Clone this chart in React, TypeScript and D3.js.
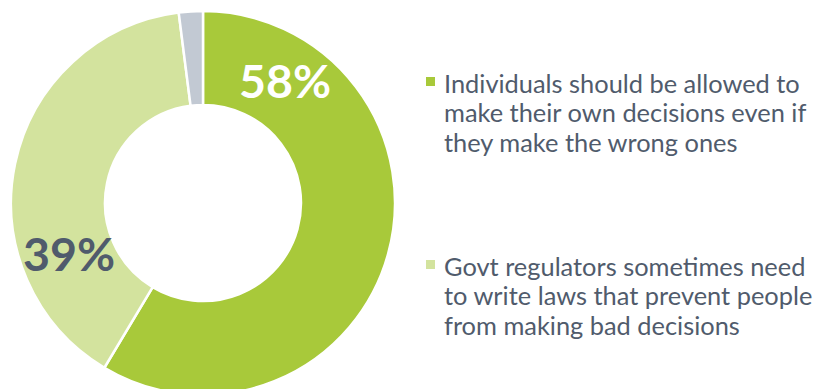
import React from "react";
import * as d3 from "d3";

const categories = [
  "Individuals should be allowed to make their own decisions even if they make the wrong ones",
  "Govt regulators sometimes need to write laws that prevent people from making bad decisions",
  "Other",
];
const values = [58, 39, 2];
const labels = ["58%", "39%", ""];
const colors = ["#a8c93a", "#d3e39e", "#c2c9d3"];
const legendLines = [
  ["Individuals should be allowed to", "make their own decisions even if", "they make the wrong ones"],
  ["Govt regulators sometimes need", "to write laws that prevent people", "from making bad decisions"],
];

const W = 820;
const H = 389;
const cx = 203;
const cy = 203;
const outerR = 192;
const innerR = 98;
const TEXT = "#505b6c";

export default function App() {
  const pie = d3.pie<number>().sort(null).value((d) => d)(values);
  const arc = d3.arc<d3.PieArcDatum<number>>().innerRadius(innerR).outerRadius(outerR);

  const labelPos = [
    { x: 285, y: 98, fill: "#ffffff" },
    { x: 69, y: 271, fill: TEXT },
  ];
  const legendY = [93, 276];

  return (
    <svg
      width={W}
      height={H}
      style={{ position: "absolute", left: 0, top: 0, background: "#fff", fontFamily: "Lato, 'Open Sans', sans-serif" }}
    >
      <g transform={`translate(${cx},${cy})`}>
        {pie.map((p, i) => (
          <path key={i} d={arc(p) || ""} fill={colors[i]} stroke="#fff" strokeWidth={2.5} strokeLinejoin="miter" />
        ))}
      </g>
      {labelPos.map((l, i) => (
        <text key={i} x={l.x} y={l.y} textAnchor="middle" fontSize={46.5} fontWeight={700} fill={l.fill}>
          {labels[i]}
        </text>
      ))}
      {legendLines.map((lines, i) => (
        <g key={i}>
          <rect x={426} y={legendY[i] - 16} width={9} height={9} fill={colors[i]} />
          {lines.map((t, j) => (
            <text key={j} x={444} y={legendY[i] + j * 29.3} fontSize={25.4} fill={TEXT}>
              {t}
            </text>
          ))}
        </g>
      ))}
    </svg>
  );
}
